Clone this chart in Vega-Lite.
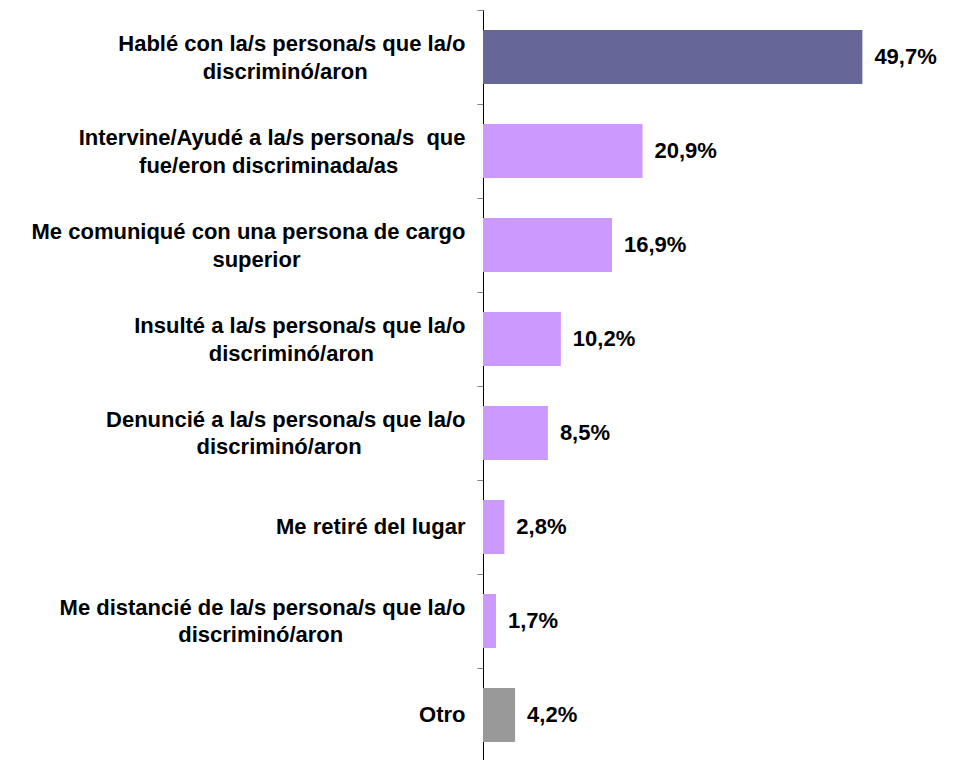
{
  "$schema": "https://vega.github.io/schema/vega-lite/v6.json",
  "width": 458,
  "height": 752,
  "autosize": {"type": "none"},
  "padding": {"left": 483, "top": 10, "right": 0, "bottom": 0},
  "background": "white",
  "config": {
    "view": {"stroke": null}
  },
  "data": {
    "values": [
      {"accion": "Hablé con la/s persona/s que la/o|discriminó/aron", "pct": 49.7},
      {"accion": "Intervine/Ayudé a la/s persona/s  que|fue/eron discriminada/as", "pct": 20.9},
      {"accion": "Me comuniqué con una persona de cargo|superior", "pct": 16.9},
      {"accion": "Insulté a la/s persona/s que la/o|discriminó/aron", "pct": 10.2},
      {"accion": "Denuncié a la/s persona/s que la/o|discriminó/aron", "pct": 8.5},
      {"accion": "Me retiré del lugar", "pct": 2.8},
      {"accion": "Me distancié de la/s persona/s que la/o|discriminó/aron", "pct": 1.7},
      {"accion": "Otro", "pct": 4.2}
    ]
  },
  "encoding": {
    "y": {
      "field": "accion",
      "type": "nominal",
      "sort": null,
      "scale": {"paddingInner": 0.4255, "paddingOuter": 0.2128},
      "axis": {
        "title": null,
        "domainColor": "black",
        "domainWidth": 1,
        "tickColor": "#808080",
        "tickWidth": 1,
        "tickSize": 6,
        "tickOffset": -47,
        "labelPadding": 12,
        "labelFont": "Liberation Sans",
        "labelFontWeight": "bold",
        "labelFontSize": 22,
        "labelColor": "black",
        "labelLineHeight": 27.5,
        "labelLimit": 0,
        "labelAlign": "right",
        "labelBaseline": "middle",
        "labelOffset": {"condition": {"test": "indexof(datum.value,'|') >= 0", "value": 33.5}, "value": 47},
        "labelExpr": "indexof(datum.value,'|') < 0 ? datum.value : [replace(split(datum.value,'|')[0], '  ', ' \u00a0'), pad(split(datum.value,'|')[1], length(split(datum.value,'|')[1]) + round(1.05 * ((length(split(datum.value,'|')[0]) - 0.5 * length(replace(split(datum.value,'|')[0], regexp('[^Iil/ rtfj]', 'g'), ''))) - (length(split(datum.value,'|')[1]) - 0.5 * length(replace(split(datum.value,'|')[1], regexp('[^Iil/ rtfj]', 'g'), ''))))), '\u00a0') + '\u200b']"
      }
    },
    "x": {
      "field": "pct",
      "type": "quantitative",
      "scale": {"domain": [0, 60]},
      "axis": null
    }
  },
  "layer": [
    {
      "mark": {"type": "bar"},
      "encoding": {
        "color": {
          "field": "accion",
          "type": "nominal",
          "legend": null,
          "scale": {
            "range": ["#666699", "#CC99FF", "#CC99FF", "#CC99FF", "#CC99FF", "#CC99FF", "#CC99FF", "#999999"]
          },
          "sort": null
        }
      }
    },
    {
      "transform": [
        {"calculate": "replace(format(datum.pct, '.1f'), '.', ',') + '%'", "as": "etiqueta"}
      ],
      "mark": {
        "type": "text",
        "align": "left",
        "baseline": "middle",
        "dx": 12,
        "font": "Liberation Sans",
        "fontWeight": "bold",
        "fontSize": 22,
        "color": "black"
      },
      "encoding": {
        "text": {"field": "etiqueta", "type": "nominal"}
      }
    }
  ]
}
